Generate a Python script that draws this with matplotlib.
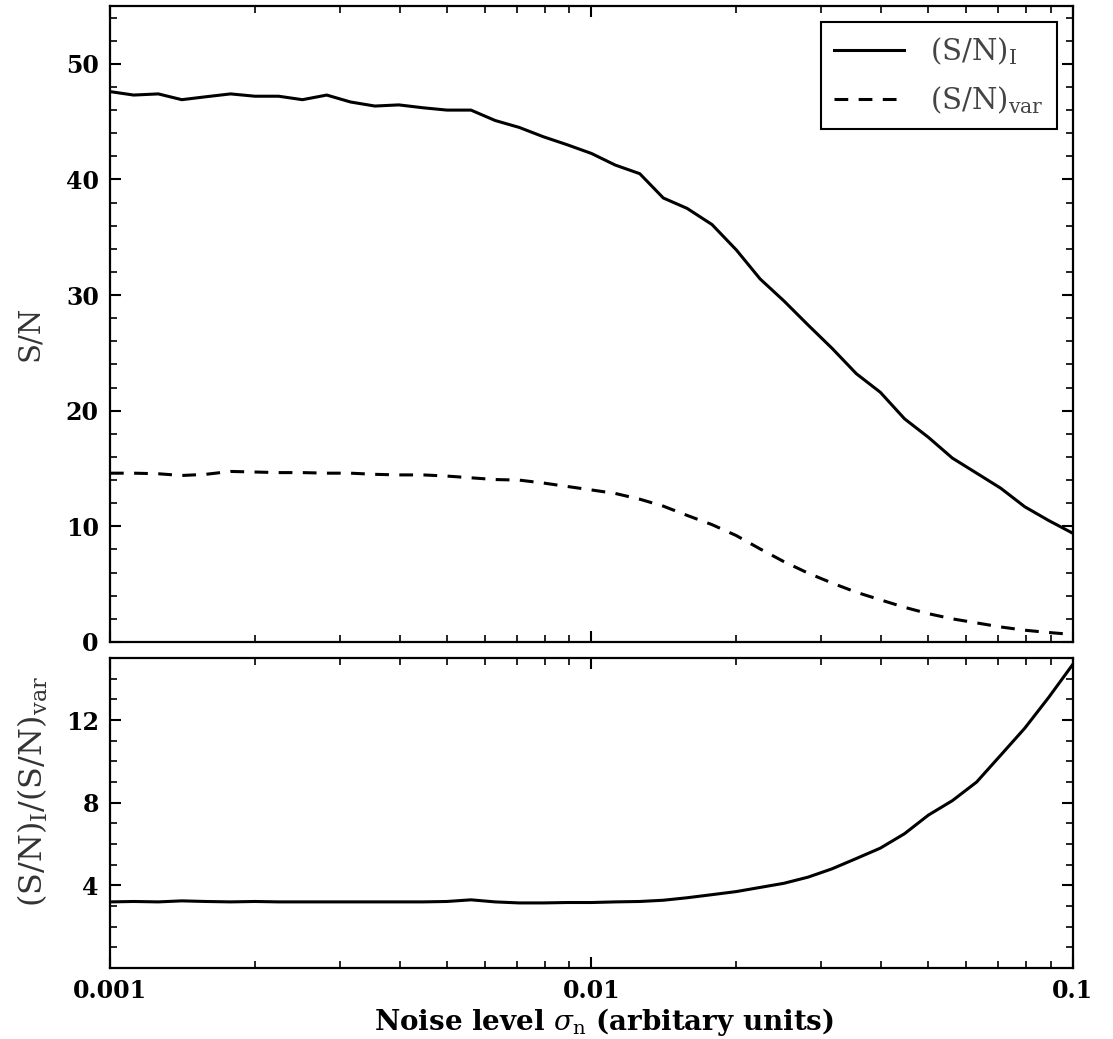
import numpy as np
import matplotlib
matplotlib.use('Agg')
import matplotlib.pyplot as plt
from matplotlib.ticker import FixedLocator, FixedFormatter, LogLocator, NullFormatter, MultipleLocator

plt.rcParams['font.family'] = ['DejaVu Serif']
plt.rcParams['mathtext.fontset'] = 'dejavuserif'

# noise levels (arbitrary units)
sigma_n = [0.001, 0.00112, 0.00126, 0.00141, 0.00158, 0.00178, 0.002, 0.00224,
           0.00251, 0.00282, 0.00316, 0.00355, 0.00398, 0.00447, 0.00501,
           0.00562, 0.00631, 0.00708, 0.00794, 0.00891,
           0.01, 0.0112, 0.0126, 0.0141, 0.0158, 0.0178, 0.02, 0.0224,
           0.0251, 0.0282, 0.0316, 0.0355, 0.0398, 0.0447, 0.0501,
           0.0562, 0.0631, 0.0708, 0.0794, 0.0891, 0.1]

sn_intensity = [47.6, 47.3, 47.4, 46.9, 47.15, 47.4, 47.2, 47.2, 46.9, 47.3,
                46.7, 46.35, 46.45, 46.2, 46.0, 46.0, 45.1, 44.5, 43.7, 43.0,
                42.25, 41.25, 40.5, 38.4, 37.5, 36.1, 33.9, 31.4, 29.5, 27.4,
                25.4, 23.2, 21.6, 19.3, 17.7, 15.9, 14.6, 13.3, 11.7, 10.5, 9.4]

sn_var = [14.6, 14.6, 14.55, 14.4, 14.5, 14.75, 14.7, 14.65, 14.65, 14.6,
          14.6, 14.5, 14.45, 14.45, 14.35, 14.2, 14.05, 14.0, 13.75, 13.45,
          13.15, 12.85, 12.35, 11.75, 10.95, 10.15, 9.2, 8.05, 6.95, 5.95,
          5.1, 4.3, 3.65, 3.0, 2.45, 2.0, 1.65, 1.3, 1.02, 0.82, 0.65]

sn_ratio = [3.2, 3.22, 3.2, 3.25, 3.22, 3.2, 3.22, 3.2, 3.2, 3.2,
            3.2, 3.2, 3.2, 3.2, 3.22, 3.3, 3.2, 3.15, 3.15, 3.17,
            3.17, 3.2, 3.22, 3.28, 3.4, 3.55, 3.7, 3.9, 4.1, 4.4,
            4.8, 5.3, 5.8, 6.5, 7.4, 8.1, 9.0, 10.3, 11.6, 13.1, 14.7]

x_ticks = [0.001, 0.01, 0.1]
x_ticklabels = ['0.001', '0.01', '0.1']

fig = plt.figure(figsize=(11.13, 10.39), dpi=100)
ax1 = fig.add_axes([0.0988, 0.3821, 0.8652, 0.6121])
ax2 = fig.add_axes([0.0988, 0.0683, 0.8652, 0.2984])

lw = 2.2
ax1.plot(sigma_n, sn_intensity, color='black', lw=lw, label=r'$(\mathrm{S/N})_{\mathrm{I}}$')
ax1.plot(sigma_n, sn_var, color='black', lw=lw, ls=(0, (4.5, 3.4)),
         label=r'$(\mathrm{S/N})_{\mathrm{var}}$')
ax2.plot(sigma_n, sn_ratio, color='black', lw=lw)

for ax in (ax1, ax2):
    ax.set_xscale('log')
    ax.set_xlim(0.001, 0.1)
    ax.xaxis.set_major_locator(FixedLocator(x_ticks))
    ax.xaxis.set_minor_locator(LogLocator(base=10, subs=np.arange(2, 10)))
    ax.xaxis.set_minor_formatter(NullFormatter())
    ax.tick_params(which='both', direction='in', top=True, right=True)
    ax.tick_params(which='major', length=8, width=1.5, labelsize=17, pad=8)
    ax.tick_params(which='minor', length=5, width=1.2)
    for spine in ax.spines.values():
        spine.set_linewidth(1.6)

ax1.set_ylim(0, 55)
ax1.yaxis.set_major_locator(MultipleLocator(10))
ax1.yaxis.set_minor_locator(MultipleLocator(2))
ax1.xaxis.set_major_formatter(NullFormatter())
ax1.set_ylabel('S/N', fontsize=21, color='#333333')
ax1.yaxis.set_label_coords(-0.069, 0.486)
for lbl in ax1.get_yticklabels():
    lbl.set_fontweight('bold')

ax2.set_ylim(0, 15)
ax2.yaxis.set_major_locator(FixedLocator([4, 8, 12]))
ax2.yaxis.set_minor_locator(MultipleLocator(1))
ax2.xaxis.set_major_formatter(FixedFormatter(x_ticklabels))
ax2.set_ylabel(r'$(\mathrm{S/N})_{\mathrm{I}}/(\mathrm{S/N})_{\mathrm{var}}$',
               fontsize=23, color='#333333')
ax2.yaxis.set_label_coords(-0.062, 0.57)
ax2.set_xlabel(r'Noise level $\sigma_{\mathrm{n}}$ (arbitary units)',
               fontsize=20, fontweight='bold', labelpad=2)
ax2.xaxis.label.set_x(0.513)
for lbl in ax2.get_yticklabels() + ax2.get_xticklabels():
    lbl.set_fontweight('bold')

leg = ax1.legend(loc='upper right', fontsize=21, fancybox=False, framealpha=1,
                 edgecolor='black', handlelength=2.4, handletextpad=0.9,
                 borderpad=0.45, labelspacing=0.6, borderaxespad=0,
                 bbox_to_anchor=(0.9834, 0.9748))
leg.get_frame().set_linewidth(1.5)
for t in leg.get_texts():
    t.set_color('#444444')

fig.savefig('out.png', dpi=100)
